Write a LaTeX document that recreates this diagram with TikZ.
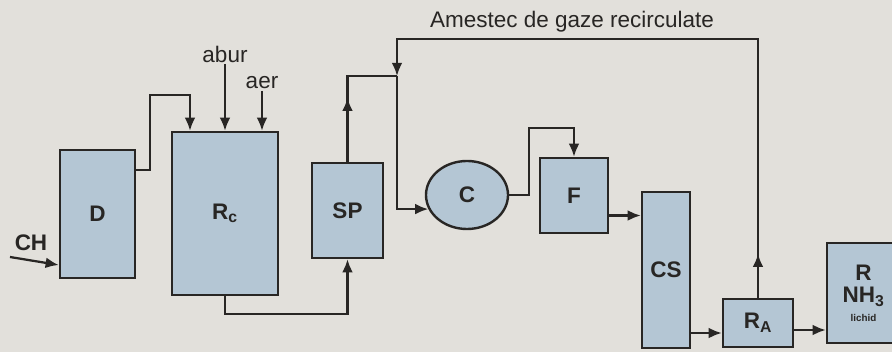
\documentclass[tikz,border=0pt]{standalone}
\usepackage{fontspec}
\setmainfont{Liberation Sans}
\usepackage{xcolor}
\usepackage{tikz}
\usetikzlibrary{shapes.geometric, arrows.meta, positioning, calc}

\definecolor{unitfill}{RGB}{180,198,212}
\definecolor{paper}{RGB}{226,224,219}
\definecolor{ink}{RGB}{40,38,36}

\begin{document}
\begin{tikzpicture}[
    x=0.025cm, y=-0.025cm,
    unit/.style={rectangle, draw=ink, line width=1.7pt, fill=unitfill, align=center, text=ink, font=\bfseries\fontsize{16}{18}\selectfont},
    vessel/.style={ellipse, draw=ink, line width=1.7pt, fill=unitfill, text=ink, font=\bfseries\fontsize{16}{18}\selectfont, inner sep=0pt},
    lbl/.style={inner sep=1pt, text=ink, font=\fontsize{16}{18}\selectfont},
    line/.style={draw=ink, line width=1.6pt},
    arrow/.style={line, -{Latex[length=3.3mm, width=2.7mm]}}
]
% Frame
\clip (0,0) rectangle (892,352);
\fill[paper] (0,0) rectangle (892,352);

% Units
\node[unit, minimum width=1.875cm, minimum height=3.2cm] (d) at (97.5,214) {D};
\node[unit, minimum width=2.65cm, minimum height=4.075cm] (rc) at (225,213.5) {R\textsubscript{c}};
\node[unit, minimum width=1.775cm, minimum height=2.375cm] (sp) at (347.5,210.5) {SP};
\node[vessel, minimum width=2.05cm, minimum height=1.7cm] (c) at (467,195) {C};
\node[unit, minimum width=1.7cm, minimum height=1.875cm] (f) at (574,195.5) {F};
\node[unit, minimum width=1.2cm, minimum height=3.9cm] (cs) at (666,270) {CS};
\node[unit, minimum width=1.75cm, minimum height=1.2cm] (ra) at (758,323) {R\textsubscript{A}};
\node[unit, minimum width=1.825cm, minimum height=2.5cm] (r) at (863.5,293)
    {R\\[-2pt]NH\textsubscript{3}\\[-5pt]{\fontsize{7}{8}\selectfont lichid}};

% Labels
\node[lbl, font=\bfseries\fontsize{16}{18}\selectfont] (ch) at (31,243) {CH};
\node[lbl] (abur) at (225,54) {abur};
\node[lbl] (aer) at (262,83) {aer};
\node[lbl] (title) at (572,22) {Amestec de gaze recirculate};

% Feeds
\coordinate (chin) at (10,257);
\draw[arrow] (chin) -- ([yshift=-1.275cm]d.west);
\draw[arrow] (abur.south) -- (rc.north);
\draw[arrow] (aer.south) -- (aer.south |- rc.north);

% Connections
\draw[arrow] ([yshift=1.1cm]d.east) -| (150,95) -| ([xshift=-0.875cm]rc.north);
\draw[arrow] (rc.south) -- ++(0,18) -| (sp.south);
\coordinate (j) at (397,76);
\draw[line] (sp.north) |- (j);
\draw[arrow] (sp.north) -- ++(0,-64);
\draw[arrow] (ra.north) |- (397,39) -- (j);
\draw[arrow] (ra.north) -- ++(0,-44);
\draw[arrow] (j) |- (c.200);
\draw[arrow] (c.east) -- ++(20,0) -- ++(0,-67) -| (f.north);
\coordinate (fo) at ([yshift=-0.5cm]f.east);
\draw[arrow] (fo) -- (fo -| cs.west);
\coordinate (cso) at ([yshift=-1.575cm]cs.east);
\draw[arrow] (cso) -- (cso -| ra.west);
\coordinate (rao) at ([yshift=-0.175cm]ra.east);
\draw[arrow] (rao) -- (rao -| r.west);
\end{tikzpicture}
\end{document}
